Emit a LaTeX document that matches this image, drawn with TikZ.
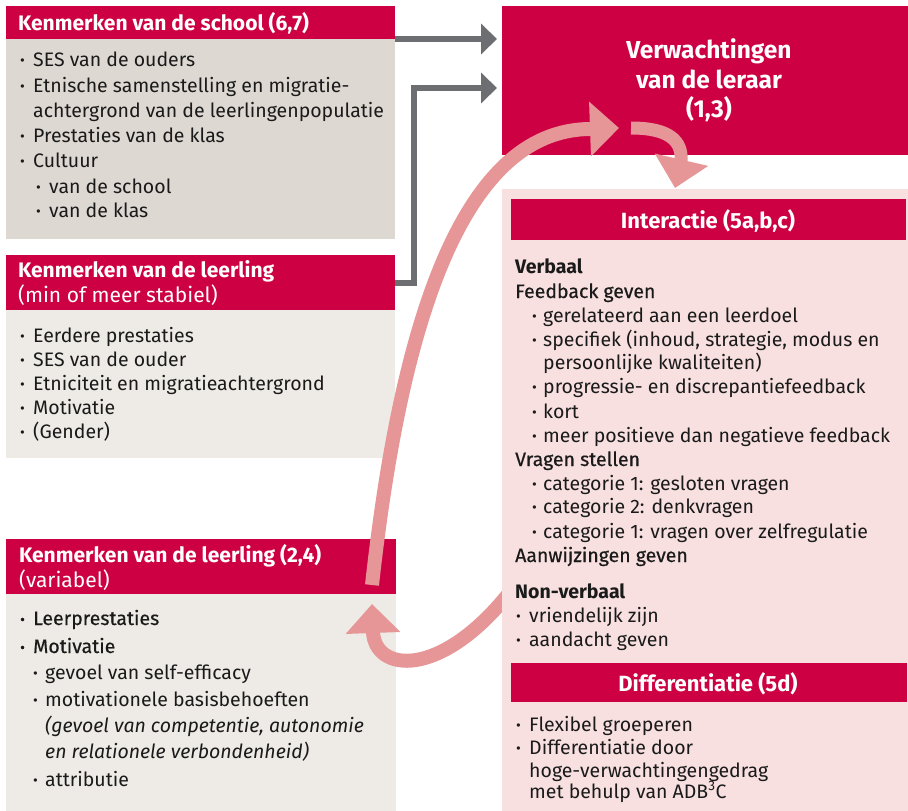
\documentclass[tikz,border=0pt]{standalone}
\usepackage{fontspec}
\usepackage{graphicx}
\setmainfont{Fira Sans}
\newfontfamily\medfont[FakeBold=0.5]{Fira Sans}
\usetikzlibrary{arrows.meta}
\definecolor{hred}{HTML}{CD0044}
\definecolor{arrpink}{HTML}{E69696}
\definecolor{panelpink}{HTML}{F8E0E0}
\definecolor{beigeA}{HTML}{DED8D2}
\definecolor{beigeB}{HTML}{EEEBE6}
\definecolor{agray}{HTML}{6D6E72}
\definecolor{txtc}{HTML}{1A1A1A}
\newcommand{\fsz}{\fontsize{19.5}{23}\selectfont}
\newcommand{\hsz}{\fontsize{21}{24}\selectfont}
\newcommand{\bu}[1][13pt]{\makebox[#1][l]{\raisebox{0.5pt}{\scalebox{0.75}{•}}}}
\tikzset{
  box/.style={anchor=north west, inner sep=0pt, outer sep=0pt},
  bt/.style={anchor=base west, inner sep=0pt, text=txtc, font=\fsz},
  ht/.style={anchor=base west, inner sep=0pt, text=white, font=\hsz\bfseries},
  hr/.style={anchor=base west, inner sep=0pt, text=white, font=\hsz},
  hc/.style={anchor=base, inner sep=0pt, text=white, font=\fontsize{22}{25}\selectfont\bfseries},
  vt/.style={anchor=base, inner sep=0pt, text=white, font=\fontsize{24.5}{28}\selectfont\bfseries},
  grayarrow/.style={draw=agray, line width=6pt, -{Triangle[length=16pt,width=30pt]}},
  pinkarrow/.style={draw=arrpink, line width=14pt, line join=round, -{Triangle[length=29pt,width=53pt]}},
}
\begin{document}
\begin{tikzpicture}[x=1pt,y=-1pt]
\useasboundingbox (0,0) rectangle (908,811);
% boxes
\node[box, fill=hred, minimum width=389pt, minimum height=33pt] (schoolhdr) at (6,6) {};
\node[box, fill=beigeA, minimum width=389pt, minimum height=200pt] (schoolbody) at (6,39) {};
\node[box, fill=hred, minimum width=389pt, minimum height=55pt] (stabhdr) at (6,255) {};
\node[box, fill=beigeB, minimum width=389pt, minimum height=148pt] (stabbody) at (6,310) {};
\node[box, fill=hred, minimum width=390pt, minimum height=55pt] (varhdr) at (6,539) {};
\node[box, fill=beigeB, minimum width=390pt, minimum height=217pt] (varbody) at (6,594) {};
\node[box, fill=hred, minimum width=406pt, minimum height=149pt] (verw) at (502,6) {};

% bottom pink arrow (behind the panel)
\coordinate (botstart) at (510,592);
\coordinate (botbase) at (373,632);
\coordinate (bottip) at (372,604);
\draw[pinkarrow] (botstart) .. controls (440,680) and (375,672) .. (botbase) -- (bottip);

\node[box, fill=panelpink, minimum width=406pt, minimum height=622pt] (panel) at (502,189) {};
\node[box, fill=hred, minimum width=395pt, minimum height=41pt] (interhdr) at (511,199) {};
\node[box, fill=hred, minimum width=396pt, minimum height=39pt] (diffhdr) at (511,663) {};

% gray arrows
\draw[grayarrow, shorten >=5pt] (schoolhdr.south east) -- (schoolhdr.south east -| verw.west);
\draw[grayarrow, shorten >=5pt] (stabhdr.east) -- ++(19,0) |- ([yshift=-7.5pt]verw.west);

% big pink arc
\coordinate (arcstart) at (372,585);
\coordinate (arcbase) at (590,129);
\coordinate (arctip) at (619,128);
\draw[pinkarrow] (arcstart) .. controls (400,330) and (460,130) .. (arcbase) -- (arctip);

% small pink arrow
\coordinate (smstart) at (631,128);
\coordinate (smbase) at (681,162);
\coordinate (smtip) at (675,188);
\draw[pinkarrow, line width=13pt] (smstart) .. controls (668,128) and (683,140) .. (smbase) -- (smtip);

% texts box 1
\node[ht] (h1) at (18,30) {Kenmerken van de school (6,7)};
\node[bt] (a1) at (20,66) {\bu SES van de ouders};
\node[bt] (a2) at (20,92) {\bu Etnische samenstelling en migratie-};
\node[bt] (a3) at (33,117) {achtergrond van de leerlingenpopulatie};
\node[bt] (a4) at (20,142) {\bu Prestaties van de klas};
\node[bt] (a5) at (20,167) {\bu Cultuur};
\node[bt] (a6) at (36,193) {\bu van de school};
\node[bt] (a7) at (36,217) {\bu van de klas};

% texts box 2
\node[ht] (h2) at (18,277) {Kenmerken van de leerling};
\node[hr] (h2b) at (18,302) {(min of meer stabiel)};
\node[bt] (b1) at (20,342) {\bu Eerdere prestaties};
\node[bt] (b2) at (20,366) {\bu SES van de ouder};
\node[bt] (b3) at (20,390) {\bu Etniciteit en migratieachtergrond};
\node[bt] (b4) at (20,414) {\bu Motivatie};
\node[bt] (b5) at (20,438) {\bu (Gender)};

% texts box 3
\node[ht] (h3) at (19,562) {Kenmerken van de leerling (2,4)};
\node[hr] (h3b) at (19,587) {(variabel)};
\node[bt] (c1) at (20,625) {\medfont\bu Leerprestaties};
\node[bt] (c2) at (20,653) {\medfont\bu Motivatie};
\node[bt] (c3) at (33,679) {\bu[12pt]gevoel van self-efficacy};
\node[bt] (c4) at (33,706) {\bu[12pt]motivationele basisbehoeften};
\node[bt] (c5) at (45,732) {\itshape (gevoel van competentie, autonomie};
\node[bt] (c6) at (45,758) {\itshape en relationele verbondenheid)};
\node[bt] (c7) at (33,786) {\bu[12pt]attributie};

% verwachtingen
\node[vt] (v1) at (709,58) {Verwachtingen};
\node[vt] (v2) at (709,88) {van de leraar};
\node[vt] (v3) at (709,117) {(1,3)};

% interactie panel
\node[hc] (ih) at (708,228) {Interactie (5a,b,c)};
\node[bt] (d1) at (515,273) {\bfseries Verbaal};
\node[bt] (d2) at (515,298) {\medfont Feedback geven};
\node[bt] (d3) at (532,322) {\bu[11pt]gerelateerd aan een leerdoel};
\node[bt] (d4) at (532,346) {\bu[11pt]specifiek (inhoud, strategie, modus en};
\node[bt] (d5) at (543,369) {persoonlijke kwaliteiten)};
\node[bt] (d6) at (532,393) {\bu[11pt]progressie- en discrepantiefeedback};
\node[bt] (d7) at (532,418) {\bu[11pt]kort};
\node[bt] (d8) at (532,442) {\bu[11pt]meer positieve dan negatieve feedback};
\node[bt] (d9) at (515,466) {\medfont Vragen stellen};
\node[bt] (d10) at (532,490) {\bu[11pt]categorie 1: gesloten vragen};
\node[bt] (d11) at (532,513) {\bu[11pt]categorie 2: denkvragen};
\node[bt] (d12) at (532,538) {\bu[11pt]categorie 1: vragen over zelfregulatie};
\node[bt] (d13) at (515,562) {\medfont Aanwijzingen geven};
\node[bt] (d14) at (515,598) {\bfseries Non-verbaal};
\node[bt] (d15) at (516,622) {\bu vriendelijk zijn};
\node[bt] (d16) at (516,646) {\bu aandacht geven};
\node[hc] (dh) at (708,691) {Differentiatie (5d)};
\node[bt] (e1) at (516,731) {\bu Flexibel groeperen};
\node[bt] (e2) at (516,754) {\bu Differentiatie door};
\node[bt] (e3) at (529,777) {hoge-verwachtingengedrag};
\node[bt] (e4) at (529,798) {met behulp van ADB\textsuperscript{3}C};
\end{tikzpicture}
\end{document}
